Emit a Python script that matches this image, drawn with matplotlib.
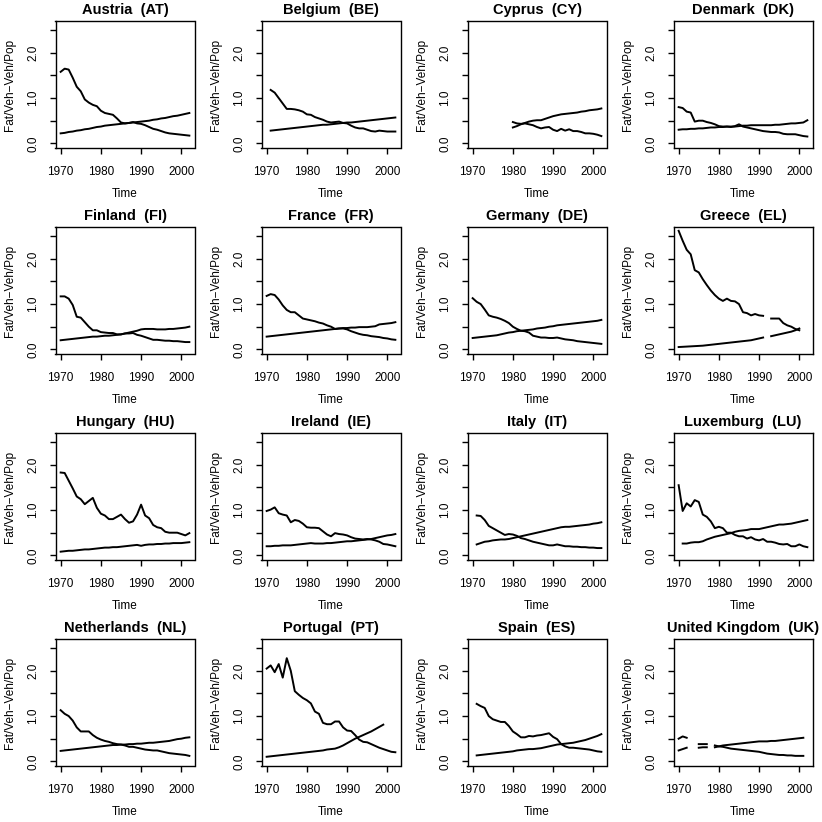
import matplotlib
matplotlib.use("Agg")
import matplotlib.pyplot as plt
import numpy as np

nan = np.nan
years = list(range(1970, 2003))

# fatalities per vehicle / vehicles per population, 1970-2002
at_fat = [1.58, 1.65, 1.63, 1.45, 1.25, 1.15, 0.97, 0.90, 0.85, 0.82,
          0.72, 0.67, 0.65, 0.63, 0.55, 0.46, 0.44, 0.45, 0.47, 0.44,
          0.43, 0.40, 0.36, 0.32, 0.30, 0.27, 0.24, 0.22, 0.21, 0.20,
          0.19, 0.18, 0.17]
at_veh = [0.22, 0.23, 0.25, 0.26, 0.28, 0.29, 0.31, 0.32, 0.34, 0.36,
          0.37, 0.39, 0.40, 0.41, 0.42, 0.43, 0.44, 0.45, 0.46, 0.47,
          0.48, 0.49, 0.50, 0.52, 0.53, 0.55, 0.56, 0.58, 0.60, 0.61,
          0.63, 0.65, 0.67]
be_fat = [nan, 1.18, 1.12, 1.00, 0.88, 0.76, 0.76, 0.75, 0.73, 0.70,
          0.64, 0.63, 0.58, 0.55, 0.52, 0.48, 0.46, 0.47, 0.48, 0.45,
          0.44, 0.39, 0.35, 0.33, 0.33, 0.30, 0.27, 0.26, 0.28, 0.27,
          0.26, 0.26, 0.26]
be_veh = [nan, 0.28, 0.29, 0.30, 0.31, 0.32, 0.33, 0.34, 0.35, 0.36,
          0.37, 0.38, 0.39, 0.40, 0.41, 0.41, 0.42, 0.43, 0.44, 0.45,
          0.46, 0.46, 0.47, 0.48, 0.49, 0.50, 0.51, 0.52, 0.53, 0.54,
          0.55, 0.56, 0.57]
cy_fat = [nan] * 10 + [
          0.47, 0.44, 0.43, 0.44, 0.42, 0.40, 0.36, 0.33, 0.35, 0.36,
          0.30, 0.27, 0.32, 0.28, 0.31, 0.27, 0.27, 0.25, 0.22, 0.22,
          0.21, 0.19, 0.16]
cy_veh = [nan] * 10 + [
          0.35, 0.38, 0.42, 0.45, 0.48, 0.50, 0.51, 0.51, 0.54, 0.57,
          0.60, 0.62, 0.64, 0.65, 0.66, 0.67, 0.68, 0.70, 0.71, 0.73,
          0.74, 0.75, 0.77]
dk_fat = [0.80, 0.78, 0.70, 0.68, 0.48, 0.50, 0.50, 0.47, 0.45, 0.42,
          0.38, 0.37, 0.37, 0.36, 0.38, 0.42, 0.37, 0.35, 0.33, 0.31,
          0.29, 0.27, 0.26, 0.25, 0.25, 0.24, 0.21, 0.20, 0.20, 0.20,
          0.18, 0.16, 0.15]
dk_veh = [0.30, 0.31, 0.31, 0.32, 0.32, 0.33, 0.33, 0.34, 0.35, 0.35,
          0.36, 0.36, 0.37, 0.37, 0.37, 0.38, 0.39, 0.39, 0.40, 0.40,
          0.40, 0.40, 0.40, 0.40, 0.41, 0.41, 0.42, 0.43, 0.44, 0.44,
          0.45, 0.46, 0.51]
fi_fat = [1.17, 1.17, 1.12, 0.98, 0.72, 0.70, 0.60, 0.50, 0.42, 0.42,
          0.38, 0.37, 0.36, 0.36, 0.33, 0.33, 0.35, 0.35, 0.36, 0.32,
          0.30, 0.27, 0.24, 0.21, 0.21, 0.20, 0.19, 0.19, 0.18, 0.18,
          0.17, 0.16, 0.16]
fi_veh = [0.20, 0.21, 0.22, 0.23, 0.24, 0.25, 0.26, 0.27, 0.28, 0.28,
          0.29, 0.30, 0.30, 0.31, 0.32, 0.33, 0.35, 0.37, 0.39, 0.41,
          0.44, 0.45, 0.45, 0.45, 0.44, 0.44, 0.44, 0.45, 0.45, 0.46,
          0.47, 0.48, 0.50]
fr_fat = [1.18, 1.22, 1.20, 1.10, 0.97, 0.87, 0.82, 0.82, 0.75, 0.68,
          0.66, 0.64, 0.62, 0.59, 0.57, 0.53, 0.50, 0.45, 0.46, 0.46,
          0.44, 0.40, 0.37, 0.34, 0.32, 0.31, 0.29, 0.28, 0.27, 0.25,
          0.24, 0.22, 0.21]
fr_veh = [0.28, 0.29, 0.30, 0.31, 0.32, 0.33, 0.34, 0.35, 0.36, 0.37,
          0.38, 0.39, 0.40, 0.41, 0.42, 0.43, 0.44, 0.45, 0.46, 0.47,
          0.47, 0.48, 0.48, 0.49, 0.49, 0.49, 0.50, 0.51, 0.55, 0.56,
          0.57, 0.58, 0.60]
de_fat = [1.13, 1.05, 1.00, 0.88, 0.75, 0.72, 0.70, 0.67, 0.63, 0.58,
          0.50, 0.45, 0.41, 0.40, 0.37, 0.30, 0.28, 0.26, 0.26, 0.25,
          0.25, 0.26, 0.24, 0.22, 0.21, 0.20, 0.18, 0.17, 0.16, 0.15,
          0.14, 0.13, 0.12]
de_veh = [0.25, 0.26, 0.27, 0.28, 0.29, 0.30, 0.31, 0.33, 0.35, 0.37,
          0.38, 0.40, 0.41, 0.42, 0.43, 0.44, 0.46, 0.47, 0.48, 0.50,
          0.51, 0.53, 0.54, 0.55, 0.56, 0.57, 0.58, 0.59, 0.60, 0.61,
          0.62, 0.63, 0.65]
el_fat = [2.62, 2.40, 2.20, 2.10, 1.75, 1.70, 1.55, 1.42, 1.30, 1.20,
          1.12, 1.07, 1.12, 1.07, 1.06, 1.00, 0.82, 0.80, 0.75, 0.78,
          0.75, 0.74, nan, 0.68, 0.68, 0.68, 0.58, 0.53, 0.50, 0.45,
          0.42, nan, nan]
el_veh = [0.05, 0.055, 0.06, 0.065, 0.07, 0.075, 0.08, 0.09, 0.10, 0.11,
          0.12, 0.13, 0.14, 0.15, 0.16, 0.17, 0.18, 0.19, 0.20, 0.22,
          0.24, 0.26, nan, 0.29, 0.31, 0.33, 0.35, 0.37, 0.39, 0.42,
          0.46, nan, nan]
hu_fat = [1.83, 1.82, 1.65, 1.48, 1.30, 1.24, 1.13, 1.20, 1.27, 1.05,
          0.92, 0.88, 0.80, 0.80, 0.85, 0.90, 0.80, 0.72, 0.75, 0.90,
          1.12, 0.88, 0.82, 0.67, 0.62, 0.60, 0.52, 0.50, 0.50, 0.50,
          0.47, 0.44, 0.49]
hu_veh = [0.08, 0.09, 0.10, 0.10, 0.11, 0.12, 0.13, 0.13, 0.14, 0.15,
          0.16, 0.17, 0.17, 0.18, 0.18, 0.19, 0.20, 0.21, 0.22, 0.23,
          0.21, 0.23, 0.24, 0.24, 0.25, 0.25, 0.26, 0.26, 0.27, 0.27,
          0.27, 0.28, 0.29]
ie_fat = [0.98, 1.01, 1.06, 0.93, 0.90, 0.88, 0.73, 0.78, 0.76, 0.70,
          0.62, 0.61, 0.61, 0.60, 0.53, 0.46, 0.42, 0.49, 0.47, 0.46,
          0.44, 0.40, 0.37, 0.36, 0.35, 0.36, 0.35, 0.33, 0.30, 0.25,
          0.24, 0.22, 0.20]
ie_veh = [0.20, 0.20, 0.21, 0.21, 0.22, 0.22, 0.22, 0.23, 0.24, 0.25,
          0.26, 0.27, 0.26, 0.26, 0.26, 0.27, 0.27, 0.28, 0.29, 0.30,
          0.31, 0.31, 0.32, 0.33, 0.34, 0.35, 0.36, 0.38, 0.40, 0.42,
          0.44, 0.45, 0.47]
it_fat = [nan, 0.88, 0.87, 0.78, 0.65, 0.60, 0.55, 0.50, 0.45, 0.47,
          0.46, 0.43, 0.38, 0.36, 0.33, 0.30, 0.28, 0.26, 0.24, 0.22,
          0.22, 0.24, 0.22, 0.20, 0.20, 0.19, 0.19, 0.18, 0.18, 0.17,
          0.17, 0.16, 0.16]
it_veh = [nan, 0.24, 0.27, 0.30, 0.31, 0.33, 0.34, 0.35, 0.35, 0.36,
          0.38, 0.40, 0.42, 0.44, 0.46, 0.48, 0.50, 0.52, 0.54, 0.56,
          0.58, 0.60, 0.62, 0.63, 0.63, 0.64, 0.65, 0.66, 0.67, 0.68,
          0.70, 0.71, 0.73]
lu_fat = [1.55, 0.98, 1.15, 1.08, 1.22, 1.18, 0.90, 0.85, 0.75, 0.60,
          0.63, 0.60, 0.50, 0.50, 0.45, 0.42, 0.42, 0.37, 0.40, 0.35,
          0.33, 0.36, 0.30, 0.30, 0.28, 0.25, 0.24, 0.25, 0.20, 0.20,
          0.24, 0.20, 0.18]
lu_veh = [nan, 0.26, 0.26, 0.28, 0.29, 0.29, 0.31, 0.35, 0.38, 0.41,
          0.43, 0.45, 0.47, 0.49, 0.52, 0.54, 0.55, 0.56, 0.58, 0.58,
          0.58, 0.60, 0.62, 0.64, 0.66, 0.68, 0.68, 0.69, 0.70, 0.72,
          0.74, 0.76, 0.78]
nl_fat = [1.13, 1.05, 1.00, 0.90, 0.75, 0.66, 0.66, 0.66, 0.58, 0.52,
          0.48, 0.45, 0.43, 0.40, 0.38, 0.37, 0.35, 0.32, 0.32, 0.30,
          0.28, 0.26, 0.25, 0.24, 0.24, 0.22, 0.20, 0.18, 0.17, 0.16,
          0.15, 0.14, 0.12]
nl_veh = [0.23, 0.24, 0.25, 0.26, 0.27, 0.28, 0.29, 0.30, 0.31, 0.32,
          0.33, 0.34, 0.35, 0.36, 0.36, 0.37, 0.37, 0.38, 0.38, 0.39,
          0.39, 0.40, 0.41, 0.41, 0.42, 0.43, 0.44, 0.45, 0.47, 0.49,
          0.50, 0.52, 0.53]
pt_fat = [2.05, 2.12, 1.97, 2.15, 1.85, 2.28, 2.00, 1.55, 1.47, 1.40,
          1.35, 1.28, 1.10, 1.05, 0.85, 0.82, 0.82, 0.88, 0.88, 0.75,
          0.68, 0.67, 0.58, 0.48, 0.43, 0.42, 0.38, 0.34, 0.30, 0.27,
          0.24, 0.21, 0.20]
pt_veh = [0.10, 0.11, 0.12, 0.13, 0.14, 0.15, 0.16, 0.17, 0.18, 0.19,
          0.20, 0.21, 0.22, 0.23, 0.24, 0.26, 0.27, 0.28, 0.31, 0.35,
          0.40, 0.45, 0.50, 0.54, 0.58, 0.62, 0.66, 0.71, 0.76, 0.81,
          nan, nan, nan]
es_fat = [nan, 1.27, 1.22, 1.18, 1.00, 0.93, 0.90, 0.87, 0.87, 0.78,
          0.66, 0.60, 0.53, 0.53, 0.56, 0.55, 0.57, 0.58, 0.60, 0.62,
          0.54, 0.49, 0.38, 0.33, 0.30, 0.30, 0.29, 0.28, 0.27, 0.26,
          0.24, 0.22, 0.21]
es_veh = [nan, 0.13, 0.14, 0.15, 0.16, 0.17, 0.18, 0.19, 0.20, 0.21,
          0.22, 0.24, 0.25, 0.26, 0.27, 0.27, 0.28, 0.29, 0.31, 0.33,
          0.35, 0.37, 0.38, 0.39, 0.40, 0.41, 0.43, 0.45, 0.47, 0.50,
          0.53, 0.56, 0.60]
uk_fat = [0.50, 0.55, 0.52, nan, nan, 0.38, 0.38, 0.38, nan, 0.35,
          0.33, 0.32, 0.30, 0.28, 0.27, 0.26, 0.25, 0.24, 0.23, 0.22,
          0.21, 0.19, 0.17, 0.16, 0.15, 0.14, 0.14, 0.13, 0.13, 0.12,
          0.12, 0.12, nan]
uk_veh = [0.24, 0.27, 0.30, nan, nan, 0.30, 0.31, 0.31, nan, 0.31,
          0.33, 0.35, 0.36, 0.37, 0.38, 0.39, 0.40, 0.41, 0.42, 0.43,
          0.44, 0.44, 0.44, 0.45, 0.45, 0.46, 0.47, 0.48, 0.49, 0.50,
          0.51, 0.52, nan]

titles = ["Austria  (AT)", "Belgium  (BE)", "Cyprus  (CY)", "Denmark  (DK)",
          "Finland  (FI)", "France  (FR)", "Germany  (DE)", "Greece  (EL)",
          "Hungary  (HU)", "Ireland  (IE)", "Italy  (IT)", "Luxemburg  (LU)",
          "Netherlands  (NL)", "Portugal  (PT)", "Spain  (ES)",
          "United Kingdom  (UK)"]
fat_series = [at_fat, be_fat, cy_fat, dk_fat, fi_fat, fr_fat, de_fat, el_fat,
              hu_fat, ie_fat, it_fat, lu_fat, nl_fat, pt_fat, es_fat, uk_fat]
veh_series = [at_veh, be_veh, cy_veh, dk_veh, fi_veh, fr_veh, de_veh, el_veh,
              hu_veh, ie_veh, it_veh, lu_veh, nl_veh, pt_veh, es_veh, uk_veh]

xticks = [1970, 1980, 1990, 2000]
yticks = [0.0, 0.5, 1.0, 1.5, 2.0, 2.5]
ylabels = ["0.0", "", "1.0", "", "2.0", ""]

plt.rcParams['font.family'] = ['Liberation Sans', 'DejaVu Sans']

W = 822.0
fig = plt.figure(figsize=(8.22, 8.22), dpi=100)

cell = 206.0
for i in range(16):
    r, c = divmod(i, 4)
    left = (55.5 + c * cell) / W
    top = (21 + r * cell) / W
    ax = fig.add_axes([left, 1 - top - 127 / W, 139 / W, 127 / W])
    ax.plot(years, fat_series[i], color='black', lw=1.4)
    ax.plot(years, veh_series[i], color='black', lw=1.4)
    ax.set_xlim(1968.72, 2003.28)
    ax.set_ylim(-0.104, 2.704)
    ax.set_xticks(xticks)
    ax.set_yticks(yticks)
    ax.set_yticklabels(ylabels, rotation=90, va='center')
    ax.tick_params(length=4, width=1, labelsize=8.5, direction='out')
    ax.tick_params(axis='x', pad=9)
    ax.tick_params(axis='y', pad=7.5)
    for s in ax.spines.values():
        s.set_linewidth(1)
    ax.set_title(titles[i], fontsize=10.5, fontweight='bold', pad=5)
    ax.set_xlabel("Time", fontsize=8.5, labelpad=7.5)
    ax.set_ylabel("Fat/Veh\u2212Veh/Pop", fontsize=8.5, labelpad=8)

fig.savefig("out.png", dpi=100)
